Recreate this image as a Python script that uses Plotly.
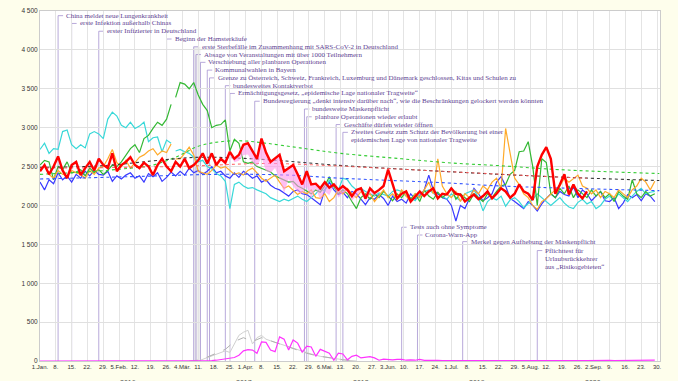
import datetime as dt
import plotly.graph_objects as go

BASE = dt.datetime(2020, 1, 1)

# sampled day offsets from 1 Jan (every second day)
SAMPLE_DAYS = list(range(0, 273, 2))

DEATHS_2016 = [
    2300, 2200, 2330, 2280, 2420, 2330, 2380, 2300, 2400, 2350,
    2440, 2380, 2450, 2400, 2390, 2440, 2310, 2380, 2340, 2390,
    2420, 2350, 2380, 2300, 2410, 2370, 2420, 2310, 2360, 2430,
    2380, 2440, 2390, 2480, 2420, 2450, 2400, 2440, 2500, 2420,
    2440, 2380, 2350, 2420, 2360, 2440, 2400, 2350, 2380, 2300,
    2330, 2260, 2220, 2200, 2160, 2120, 2180, 2200, 2150, 2140,
    2100, 2050, 2010, 2200, 2300, 2200, 2140, 2170, 2100, 2180,
    2150, 2080, 2010, 2100, 2080, 2140, 2090, 2000, 2120, 2050,
    2080, 2030, 2150, 2080, 2120, 2200, 2390, 2200, 2150, 2100,
    2080, 2000, 1800, 2000, 1960, 2100, 2220, 2150, 2060, 2100,
    2150, 2300, 2370, 2250, 2090, 2050, 2000, 1960, 2050, 2000,
    1930, 2020, 2090, 2150, 2100, 2180, 2140, 2120, 2240, 2100,
    2200, 2150, 2060, 2120, 2180, 2060, 2050, 2100, 1960, 2030,
    2140, 2100, 2140, 2060, 2150, 2120, 2050,
]
DEATHS_2017 = [
    2720, 2800, 2670, 2730, 2720, 2950, 2970, 2780, 2730, 2780,
    2740, 2920, 2950, 2920, 2860, 3110, 3200, 3150, 3030, 3000,
    3070, 2990, 3020, 3070, 2820, 2870, 2880, 2690, 2840, 2800,
    2700, 2720, 2690, 2670, 2620, 2560, 2580, 2500, 2470, 2410,
    2380, 2310, 1960, 2270, 2300, 2250, 2220, 2230, 2200, 2170,
    2150, 2100, 2070, 2050, 2080, 2060, 2090, 2120, 2080, 2050,
    2100, 2150, 2220, 2180, 2330, 2250, 2200, 2350, 2330, 2250,
    2200, 2220, 2180, 2150, 2120, 2160, 2140, 2120, 2180, 2200,
    2180, 2120, 2100, 2060, 2150, 2180, 2200, 2160, 2100, 2120,
    2080, 2150, 2100, 2060, 2150, 2180, 2200, 2100, 1930, 2050,
    2100, 2070, 2120, 1990, 2070, 2100, 2050, 1970, 2020, 2080,
    2150, 2100, 2050, 2000, 2050, 2100, 2030, 1980, 1960, 2040,
    2080, 2020, 2050, 1960, 2000, 2080, 2120, 2060, 2150, 2100,
    2050, 2120, 2180, 2220, 2150, 2170, 2180,
]
DEATHS_2018 = [
    2520, 2580, 2560, 2330, 2500, 2460, 2560, 2420, 2430, 2460,
    2380, 2480, 2420, 2460, 2400, 2450, 2520, 2500, 2560, 2650,
    2730, 2780, 2680, 2860, 2900, 2990, 3070, 3030, 3110, 3300,
    3390, 3580, 3560, 3500, 3580, 3420, 3300, 3220, 3000, 3030,
    3040, 3100, 2700, 2850, 2800, 2560, 2540, 2560, 2500, 2480,
    2450, 2430, 2380, 2350, 2330, 2300, 2310, 2250, 2220, 2180,
    2150, 2200, 2170, 2250, 2370, 2240, 2150, 2200, 2150, 2050,
    1960, 2100, 2150, 2080, 2150, 2100, 2180, 2120, 2060, 2150,
    2100, 2180, 2080, 2150, 2050, 2200, 2120, 2080, 2170, 2100,
    2150, 2230, 2080, 2150, 2100, 2050, 2150, 2100, 2050, 2150,
    2100, 2180, 2250, 2270, 2400, 2450, 2690, 2700, 2820, 2500,
    2000, 2600, 2550, 2150, 2100, 2220, 2150, 2250, 2100, 2200,
    2150, 2100, 2200, 2120, 2180, 2100, 2150, 2050, 2180, 2120,
    2080, 2330, 2150, 2100, 2180, 2120, 2150,
]
DEATHS_2019 = [
    2450, 2520, 2400, 2350, 2450, 2400, 2380, 2450, 2420, 2400,
    2350, 2450, 2400, 2480, 2500, 2600, 2720, 2550, 2500, 2580,
    2480, 2550, 2620, 2650, 2700, 2730, 2650, 2700, 2680, 2790,
    2600, 2600, 2670, 2750, 2650, 2440, 2420, 2400, 2450, 2520,
    2480, 2500, 2450, 2400, 2420, 2390, 2450, 2480, 2420, 2350,
    2310, 2350, 2390, 2300, 2220, 2250, 2200, 2140, 2180, 2150,
    2200, 2100, 2090, 2150, 2050, 2100, 2200, 2150, 2220, 2150,
    2100, 2180, 2100, 2150, 2050, 2120, 2200, 2100, 2150, 2080,
    2200, 2120, 2050, 2150, 2100, 2200, 2300, 2150, 2600, 2250,
    2150, 2100, 2180, 2050, 2150, 2100, 2200, 2150, 2250, 2200,
    2300, 2350, 2220, 2990, 2650, 2350, 2270, 2150, 2100, 2000,
    1950, 2050, 2090, 2150, 2200, 2250, 2350, 2300, 2350, 2390,
    2250, 2220, 2150, 2200, 2100, 2180, 2150, 2100, 2200, 2150,
    2100, 2200, 2250, 2350, 2300, 2200, 2310,
]
DEATHS_2020 = [
    2440, 2520, 2400, 2500, 2630, 2450, 2350, 2520, 2560, 2390,
    2480, 2560, 2450, 2600, 2520, 2480, 2670, 2440, 2520, 2560,
    2620, 2520, 2480, 2550, 2500, 2390, 2520, 2600, 2500, 2440,
    2560, 2500, 2600, 2480, 2520, 2580, 2670, 2540, 2670, 2520,
    2600, 2550, 2690, 2600, 2650, 2780, 2800, 2700, 2600, 2860,
    2680, 2560, 2600, 2650, 2440, 2480, 2520, 2400, 2270, 2440,
    2270, 2280, 2220, 2300, 2230, 2270, 2200, 2250, 2200, 2120,
    2200, 2220, 2090, 2220, 2160, 2200, 2250, 2460, 2270, 2090,
    2150, 2180, 2050, 2120, 2180, 2120, 2180, 2220, 2090, 2150,
    2140, 2220, 2150, 2140, 2050, 2100, 2140, 2080, 2120, 2180,
    2090, 2150, 2220, 2180, 2100, 2150, 2270, 2180, 2150, 2070,
    2500, 2650, 2750, 2600, 2150, 2270, 2400, 2140, 2270, 2150,
    2090, 2180, None, None, None, None, None, None, None, None,
    None, None, None, None, None, None, None,
]
# daily COVID-19 deaths 2020
COVID_2020 = [
    0, 0, 0, 0, 0, 0, 0, 0, 0, 0,
    0, 0, 0, 0, 0, 0, 0, 0, 0, 0,
    0, 0, 0, 0, 0, 0, 0, 0, 0, 0,
    0, 0, 0, 0, 0, 0, 0, 0, 5, 10,
    20, 30, 35, 45, 75, 130, 145, 140, 100, 245,
    240, 140, 120, 310, 280, 140, 270, 230, 115, 190,
    180, 60, 150, 120, 100, 10, 100, 90, 15, 60,
    75, 40, 45, 55, 40, 10, 25, 20, 15, 20,
    20, 10, 15, 10, 20, 8, 10, 6, 8, 5,
    6, 4, 8, 5, 6, 4, 5, 6, 4, 5,
    4, 6, 5, 4, 6, 5, 4, 6, 5, 4,
    5, 6, 4, 5, 6, 5, 7, 5, 6, 5,
    6, 5, 7, 6, 5, 6, 8, 6, 7, 6,
    8, 10, 12, 15, 10, 8, 12,
]

# grey auxiliary curves (spring 2020)
GREY_A_DAYS = [70, 74, 78, 82, 84, 86, 88, 90, 92, 94, 96, 98, 100, 104, 108, 112, 116, 120, 124, 128, 132, 136, 140]
GREY_A = [0, 40, 90, 130, 110, 230, 330, 370, 395, 220, 300, 330, 280, 240, 200, 170, 120, 90, 60, 40, 25, 10, 0]
GREY_B_DAYS = [66, 70, 74, 78, 82, 86, 90, 94, 98, 102, 106, 110, 114, 118, 122, 126, 130, 134, 138]
GREY_B = [0, 10, 50, 100, 150, 250, 300, 250, 300, 260, 220, 170, 130, 100, 70, 50, 30, 15, 5]

# dotted reference curves
TREND_GREEN_DAYS = [0, 20, 40, 50, 60, 70, 80, 90, 100, 115, 133, 160, 180, 204, 230, 274]
TREND_GREEN = [2400, 2430, 2480, 2520, 2620, 2760, 2820, 2830, 2800, 2740, 2670, 2600, 2550, 2510, 2460, 2410]
TREND_BLACK_DAYS = [0, 27, 56, 71, 100, 130, 177, 226, 274]
TREND_BLACK = [2490, 2510, 2590, 2620, 2590, 2520, 2440, 2370, 2320]
TREND_RED_DAYS = [0, 40, 70, 100, 130, 177, 226, 242]
TREND_RED = [2480, 2490, 2510, 2540, 2510, 2440, 2370, 2350]
TREND_BLUE_DAYS = [0, 40, 80, 110, 133, 180, 204, 274]
TREND_BLUE = [2340, 2370, 2400, 2390, 2350, 2290, 2250, 2190]

# events
EVENT_DATES = [
    "2020-01-09", "2020-01-15", "2020-01-27", "2020-02-26", "2020-03-09",
    "2020-03-10", "2020-03-12", "2020-03-15", "2020-03-16", "2020-03-23",
    "2020-03-25", "2020-04-05", "2020-04-27", "2020-04-28", "2020-05-11",
    "2020-05-14", "2020-06-09", "2020-06-16", "2020-07-06", "2020-08-08",
]
EVENT_TEXTS = [
    ["China meldet neue Lungenkrankheit"],
    ["erste Infektion außerhalb Chinas"],
    ["erster Infizierter in Deutschland"],
    ["Beginn der Hamsterkäufe"],
    ["erste Sterbefälle im Zusammenhang mit SARS-CoV-2 in Deutschland"],
    ["Absage von Veranstaltungen mit über 1000 Teilnehmern"],
    ["Verschiebung aller planbaren Operationen"],
    ["Kommunalwahlen in Bayern"],
    ["Grenze zu Österreich, Schweiz, Frankreich, Luxemburg und Dänemark geschlossen, Kitas und Schulen zu"],
    ["bundesweites Kontaktverbot"],
    ["Ermächtigungsgesetz, „epidemische Lage nationaler Tragweite“"],
    ["Bundesregierung „denkt intensiv darüber nach“, wie die Beschränkungen gelockert werden könnten"],
    ["bundesweite Maskenpflicht"],
    ["planbare Operationen wieder erlaubt"],
    ["Geschäfte dürfen wieder öffnen"],
    ["Zweites Gesetz zum Schutz der Bevölkerung bei einer", "epidemischen Lage von nationaler Tragweite"],
    ["Tests auch ohne Symptome"],
    ["Corona-Warn-App"],
    ["Merkel gegen Aufhebung der Maskenpflicht"],
    ["Pflichttest für", "Urlaubsrückkehrer", "aus „Risikogebieten“"],
]

TICK_LABELS = ["1.Jan.", "8.", "15.", "22.", "29.", "5.Feb.", "12.", "19.", "26.",
               "4.Mär.", "11.", "18.", "25.", "1.Apr.", "8.", "15.", "22.", "29.",
               "6.Mai.", "13.", "20.", "27.", "3.Jun.", "10.", "17.", "24.",
               "1.Jul.", "8.", "15.", "22.", "29.", "5.Aug.", "12.", "19.", "26.",
               "2.Sep.", "9.", "16.", "23.", "30."]
Y_TICKS = [0, 500, 1000, 1500, 2000, 2500, 3000, 3500, 4000, 4500]
Y_TICK_LABELS = ["0", "500", "1 000", "1 500", "2 000", "2 500", "3 000", "3 500", "4 000", "4 500"]
YEARS = ["2016", "2017", "2018", "2019", "2020"]


def to_dates(days):
    return [BASE + dt.timedelta(days=d) for d in days]


def with_feb29_gap(days, vals):
    i = days.index(60)
    return days[:i] + [59] + days[i:], vals[:i] + [None] + vals[i:]


fig = go.Figure()

# ---- styling (positions / sizes) ----
EVENT_LINE = "rgba(160,140,205,0.75)"
TEXT_COLOR = "#5e4392"
LABEL_Y = [4440, 4340, 4240, 4140, 4040, 3940, 3840, 3740, 3640, 3540,
           3440, 3340, 3240, 3140, 3040, 2940, 1720, 1620, 1535, 1420]

shapes = []
annotations = []
# grey band around the first events in March
shapes.append(dict(type="rect", xref="x", yref="y", x0="2020-03-09", x1="2020-03-12",
                   y0=0, y1=4040, fillcolor="rgba(190,190,190,0.25)", line=dict(width=0),
                   layer="below"))
for date, lines, ly in zip(EVENT_DATES, EVENT_TEXTS, LABEL_Y):
    shapes.append(dict(type="line", xref="x", yref="y", x0=date, x1=date, y0=0, y1=ly,
                       line=dict(color=EVENT_LINE, width=1), layer="below"))
    shapes.append(dict(type="line", xref="x", yref="y", xsizemode="pixel", xanchor=date,
                       x0=0, x1=5, y0=ly, y1=ly,
                       line=dict(color=EVENT_LINE, width=1), layer="below"))
    for k, t in enumerate(lines):
        annotations.append(dict(x=date, y=ly, xref="x", yref="y", text=t, showarrow=False,
                                xanchor="left", yanchor="middle", xshift=6, yshift=-8 * k,
                                font=dict(family="Liberation Serif", size=7, color=TEXT_COLOR)))

for k, yr in enumerate(YEARS):
    annotations.append(dict(x=(128 + 116.3 * k - 40) / 620, y=-0.045, xref="paper", yref="paper",
                            text=yr, showarrow=False, xanchor="center", yanchor="top",
                            font=dict(family="Liberation Sans", size=7, color="#555")))

# grey curves
fig.add_trace(go.Scatter(x=to_dates(GREY_A_DAYS), y=GREY_A, mode="lines",
                         line=dict(color="#d0d0d0", width=1), name="grau", showlegend=False))
fig.add_trace(go.Scatter(x=to_dates(GREY_B_DAYS), y=GREY_B, mode="lines",
                         line=dict(color="#b0b0b0", width=1, dash="dash"), name="grau2", showlegend=False))

# year series
series = [
    ("2016", DEATHS_2016, "#3a3aff", False),
    ("2017", DEATHS_2017, "#38d8d8", True),
    ("2018", DEATHS_2018, "#33b833", True),
    ("2019", DEATHS_2019, "#ffaa2a", True),
]
for name, vals, color, gap in series:
    d, v = (with_feb29_gap(SAMPLE_DAYS, vals) if gap else (SAMPLE_DAYS, vals))
    fig.add_trace(go.Scatter(x=to_dates(d), y=v, mode="lines", name=name,
                             line=dict(color=color, width=1.2), connectgaps=False, showlegend=False))

# dotted reference curves
for dd, vv, c in [(TREND_GREEN_DAYS, TREND_GREEN, "#33cc33"),
                  (TREND_BLACK_DAYS, TREND_BLACK, "#333333"),
                  (TREND_RED_DAYS, TREND_RED, "rgba(255,90,90,0.85)"),
                  (TREND_BLUE_DAYS, TREND_BLUE, "#3355ff")]:
    fig.add_trace(go.Scatter(x=to_dates(dd), y=vv, mode="lines", showlegend=False,
                             line=dict(color=c, width=1.1, dash="dot", shape="spline")))

# pink band: 2020 deaths minus COVID deaths
band_days, band_low, band_high = [], [], []
for d, v, c in zip(SAMPLE_DAYS, DEATHS_2020, COVID_2020):
    if v is not None and c > 0 and d <= 170:
        band_days.append(d)
        band_low.append(v - c)
        band_high.append(v)
fig.add_trace(go.Scatter(x=to_dates(band_days), y=band_low, mode="lines",
                         line=dict(width=0, color="rgba(0,0,0,0)"), showlegend=False, hoverinfo="skip"))
fig.add_trace(go.Scatter(x=to_dates(band_days), y=band_high, mode="lines", fill="tonexty",
                         fillcolor="rgba(255,150,235,0.6)", line=dict(width=0, color="rgba(0,0,0,0)"),
                         showlegend=False, hoverinfo="skip"))

fig.add_trace(go.Scatter(x=to_dates(SAMPLE_DAYS), y=DEATHS_2020, mode="lines", name="2020",
                         line=dict(color="#ff0000", width=2.4), showlegend=False))
fig.add_trace(go.Scatter(x=to_dates(SAMPLE_DAYS), y=COVID_2020, mode="lines", name="COVID-19",
                         line=dict(color="#ff33ff", width=1.2), showlegend=False))

tickvals = [BASE + dt.timedelta(days=7 * k) for k in range(len(TICK_LABELS))]

fig.update_layout(
    width=678, height=381,
    margin=dict(l=40, r=18, t=7, b=20),
    paper_bgcolor="#fefeec", plot_bgcolor="#ffffff",
    shapes=shapes, annotations=annotations,
    showlegend=False, hovermode=False,
    xaxis=dict(range=[BASE, BASE + dt.timedelta(days=274.3)], tickvals=tickvals, ticktext=TICK_LABELS,
               tickangle=0,
               showgrid=True, gridcolor="#e4e4e4", gridwidth=1, zeroline=False,
               showline=True, mirror=True, linecolor="#cccccc", linewidth=1,
               tickfont=dict(family="Liberation Sans", size=6, color="#333"), ticks=""),
    yaxis=dict(range=[0, 4500], tickvals=Y_TICKS, ticktext=Y_TICK_LABELS,
               showgrid=True, gridcolor="#e0e0e0", gridwidth=1, zeroline=False,
               showline=True, mirror=True, linecolor="#cccccc", linewidth=1,
               tickfont=dict(family="Liberation Sans", size=6.5, color="#333"), ticks=""),
)

fig.write_html("out.html", config={"displayModeBar": False},
               post_script="document.body.style.margin='0px';document.body.style.padding='0px';")
